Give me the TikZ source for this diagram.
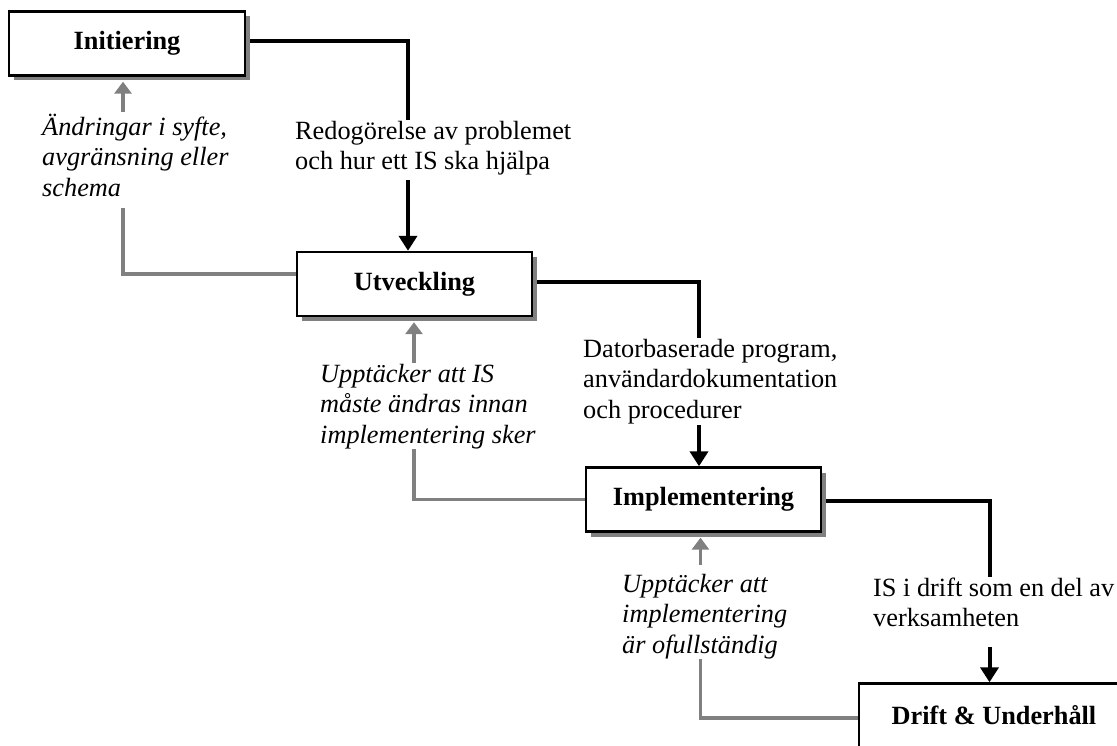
\documentclass[tikz,border=0pt]{standalone}
\usepackage{fontspec}
\setmainfont{Liberation Serif}
\usetikzlibrary{arrows.meta,shadows,backgrounds}
\definecolor{fbgray}{RGB}{128,128,128}
\definecolor{shgray}{RGB}{128,128,128}
\tikzset{
  phase/.style={draw=black, line width=2.4pt, fill=white, minimum width=235pt,
    minimum height=64pt, inner sep=0pt,
    font=\fontsize{26.3}{30.5}\selectfont\bfseries,
    drop shadow={shadow xshift=5pt, shadow yshift=-5pt, fill=shgray, opacity=1}},
  flow/.style={draw=black, line width=4pt, -{Triangle[width=18pt,length=15pt]}},
  feedback/.style={draw=fbgray, line width=3.6pt, -{Triangle[width=17pt,length=12pt]}},
  lbl/.style={anchor=north west, align=left, fill=white, inner sep=0pt,
    font=\fontsize{26.3}{30.5}\selectfont},
  ilbl/.style={lbl, font=\fontsize{26.3}{30.5}\selectfont\itshape},
}
\begin{document}
\begin{tikzpicture}[x=1pt,y=-1pt]
\useasboundingbox (0,0) rectangle (1117,746);
\clip (0,0) rectangle (1117,746);
% phases
\node[phase, minimum width=236pt] (init) at (127,43.5) {Initiering};
\node[phase] (utv) at (414.5,284) {Utveckling};
\node[phase] (impl) at (703.5,499.5) {Implementering};
\node[phase, minimum width=270pt] (drift) at (994,715.5) {Drift \& Underhåll};
% connectors
\begin{pgfonlayer}{background}
\draw[flow] ([yshift=2pt]init.east) -| ([xshift=-6.5pt]utv.north);
\draw[flow] ([yshift=2pt]utv.east) -| ([xshift=-4.5pt]impl.north);
\draw[flow] ([yshift=-1.5pt]impl.east) -| ([xshift=-4.5pt]drift.north);
\draw[feedback] ([yshift=10pt]utv.west) -| ([xshift=-4pt,yshift=-5pt]init.south);
\draw[feedback] (impl.west) -| ([xshift=-0.5pt,yshift=-5pt]utv.south);
\draw[feedback] ([yshift=-2.5pt]drift.west) -| ([xshift=-3pt,yshift=-5pt]impl.south);
\end{pgfonlayer}
% labels
\node[ilbl] (tA) at (42,112) {\rule{0pt}{23pt}Ändringar i syfte,\\avgränsning eller\\schema\rule[-12pt]{0pt}{12pt}};
\node[lbl] (tB) at (295,120) {\rule{0pt}{19pt}Redogörelse av problemet\\och hur ett IS ska hjälpa\rule[-10pt]{0pt}{10pt}};
\node[ilbl] (tC) at (320,363) {\rule{0pt}{19pt}Upptäcker att IS\\måste ändras innan\\implementering sker\rule[-6pt]{0pt}{6pt}};
\node[lbl] (tD) at (583,338) {\rule{0pt}{19pt}Datorbaserade program,\\användardokumentation\\och procedurer\rule[-7pt]{0pt}{7pt}};
\node[ilbl] (tE) at (622,565) {\rule{0pt}{27pt}Upptäcker att\\implementering\\är ofullständig\rule[-6pt]{0pt}{6pt}};
\node[lbl] (tF) at (873,577) {\rule{0pt}{19pt}IS i drift som en del av\\verksamheten\rule[-20pt]{0pt}{20pt}};
\end{tikzpicture}
\end{document}
